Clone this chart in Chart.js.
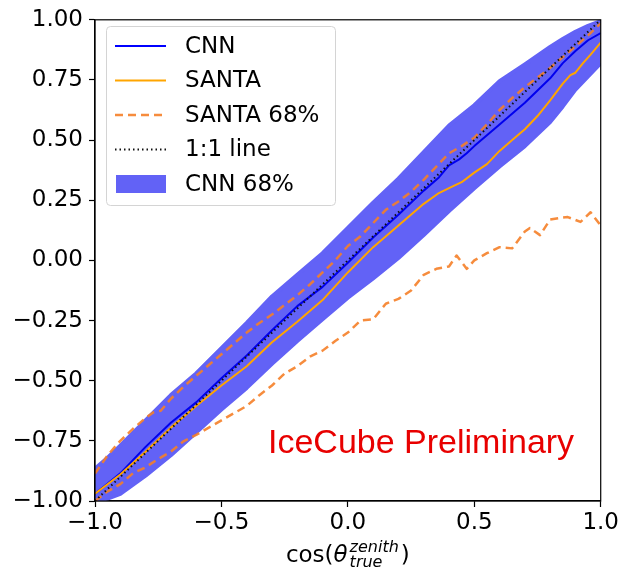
<!DOCTYPE html>
<html>
<head>
<meta charset="utf-8">
<script src="https://cdn.jsdelivr.net/npm/chart.js@4.4.1/dist/chart.umd.min.js"></script>
<style>
    html, body { margin: 0; padding: 0; background: #fff; }
    #wrap { width: 621px; height: 568px; }
</style>
</head>
<body>
<div id="wrap"><canvas id="zenithChart" width="621" height="568"></canvas></div>
<script>
// x = cos(theta_true), y = reconstructed cos(theta)
let cnnX = [-1, -0.9, -0.8, -0.7, -0.6, -0.5, -0.4, -0.3, -0.2, -0.1, 0, 0.1, 0.2, 0.3, 0.36, 0.4, 0.44, 0.47, 0.5, 0.6, 0.7, 0.8, 0.85, 0.9, 0.95, 1]
let cnnY = [-0.97, -0.885, -0.775, -0.675, -0.59, -0.49, -0.395, -0.29, -0.19, -0.11, -0.01, 0.095, 0.19, 0.29, 0.345, 0.395, 0.42, 0.445, 0.475, 0.565, 0.655, 0.757, 0.82, 0.87, 0.915, 0.945]

let santaX = [-1, -0.9, -0.8, -0.7, -0.6, -0.5, -0.4, -0.3, -0.2, -0.1, 0, 0.1, 0.2, 0.3, 0.36, 0.4, 0.45, 0.5, 0.55, 0.6, 0.65, 0.7, 0.75, 0.8, 0.85, 0.88, 0.9, 0.93, 0.96, 1]
let santaY = [-0.97, -0.89, -0.795, -0.695, -0.605, -0.52, -0.44, -0.34, -0.255, -0.165, -0.05, 0.055, 0.145, 0.235, 0.28, 0.3, 0.325, 0.365, 0.4, 0.455, 0.5, 0.545, 0.6, 0.665, 0.735, 0.77, 0.78, 0.82, 0.855, 0.905]

// SANTA 68% upper / lower bounds
let santaHiX = [-1, -0.95, -0.9, -0.85, -0.8, -0.77, -0.74, -0.7, -0.65, -0.6, -0.55, -0.5, -0.45, -0.4, -0.35, -0.3, -0.25, -0.2, -0.15, -0.1, -0.05, 0, 0.05, 0.1, 0.15, 0.2, 0.25, 0.3, 0.35, 0.4, 0.45, 0.5, 0.55, 0.6, 0.65, 0.7, 0.75, 0.8, 0.85, 0.9, 0.95, 1]
let santaHiY = [-0.886, -0.81, -0.75, -0.7, -0.655, -0.632, -0.625, -0.575, -0.525, -0.48, -0.435, -0.39, -0.345, -0.3, -0.26, -0.225, -0.185, -0.145, -0.1, -0.05, 0.0, 0.06, 0.1, 0.155, 0.21, 0.245, 0.285, 0.335, 0.39, 0.445, 0.475, 0.51, 0.565, 0.625, 0.675, 0.72, 0.76, 0.8, 0.845, 0.89, 0.935, 0.985]

let santaLoX = [-1, -0.95, -0.9, -0.85, -0.8, -0.75, -0.7, -0.65, -0.6, -0.55, -0.5, -0.45, -0.4, -0.35, -0.3, -0.25, -0.2, -0.15, -0.1, -0.05, 0, 0.05, 0.1, 0.15, 0.2, 0.25, 0.3, 0.35, 0.4, 0.43, 0.47, 0.5, 0.55, 0.6, 0.65, 0.7, 0.72, 0.76, 0.8, 0.85, 0.87, 0.92, 0.96, 1]
let santaLoY = [-1.0, -0.96, -0.93, -0.885, -0.86, -0.825, -0.795, -0.752, -0.725, -0.695, -0.665, -0.635, -0.605, -0.56, -0.52, -0.47, -0.44, -0.4, -0.375, -0.335, -0.3, -0.25, -0.245, -0.18, -0.16, -0.125, -0.06, -0.035, -0.025, 0.02, -0.035, 0.0, 0.03, 0.055, 0.05, 0.12, 0.135, 0.105, 0.17, 0.178, 0.18, 0.16, 0.2, 0.145]

// CNN 68% band
let bandX = [-1, -0.95, -0.9, -0.8, -0.7, -0.6, -0.5, -0.4, -0.3, -0.2, -0.1, 0, 0.1, 0.2, 0.3, 0.4, 0.5, 0.6, 0.7, 0.8, 0.85, 0.9, 0.95, 1]
let bandHi = [-0.865, -0.82, -0.77, -0.665, -0.56, -0.47, -0.365, -0.26, -0.15, -0.06, 0.03, 0.135, 0.24, 0.34, 0.45, 0.56, 0.645, 0.745, 0.815, 0.887, 0.92, 0.95, 0.975, 0.995]
let bandLo = [-1.0, -0.99, -0.97, -0.895, -0.81, -0.715, -0.62, -0.53, -0.43, -0.335, -0.245, -0.155, -0.075, 0.01, 0.105, 0.205, 0.3, 0.39, 0.475, 0.575, 0.64, 0.71, 0.765, 0.82]

let diagX = [-1, 1]
let diagY = [-1, 1]

let xTicks = [-1, -0.5, 0, 0.5, 1]
let yTicks = [-1, -0.75, -0.5, -0.25, 0, 0.25, 0.5, 0.75, 1]

const FONT = 'DejaVu Sans'
const bandColor = '#6262f6'
const dashColor = 'rgba(245,128,40,0.9)'

function pts(xs, ys) {
    return xs.map((x, i) => ({ x: x, y: ys[i] }))
}

function minus(s) {
    return s.replace('-', '\u2212')
}

// legend rows, drawn inside the plot
let legendItems = [
    { label: 'CNN', kind: 'line', color: 'blue', width: 2, dash: [] },
    { label: 'SANTA', kind: 'line', color: 'orange', width: 2, dash: [] },
    { label: 'SANTA 68%', kind: 'line', color: dashColor, width: 2.5, dash: [8, 5] },
    { label: '1:1 line', kind: 'line', color: '#111', width: 2, dash: [1.5, 3] },
    { label: 'CNN 68%', kind: 'patch', color: bandColor }
]

const legendPlugin = {
    id: 'insideLegend',
    afterDatasetsDraw(chart) {
        let ctx = chart.ctx
        ctx.save()
        // box
        ctx.fillStyle = 'rgba(255,255,255,0.85)'
        ctx.strokeStyle = '#d4d4d4'
        ctx.lineWidth = 1
        ctx.beginPath()
        ctx.roundRect(106.5, 26.5, 229, 179, 4)
        ctx.fill()
        ctx.stroke()
        let y0 = 46, step = 34.5
        ctx.font = '23px "' + FONT + '"'
        ctx.textBaseline = 'middle'
        legendItems.forEach((it, i) => {
            let y = y0 + i * step
            if (it.kind == 'patch') {
                ctx.fillStyle = it.color
                ctx.fillRect(116, y - 9, 50, 18)
            } else {
                ctx.strokeStyle = it.color
                ctx.lineWidth = it.width
                ctx.setLineDash(it.dash)
                ctx.beginPath()
                ctx.moveTo(115, y)
                ctx.lineTo(166, y)
                ctx.stroke()
                ctx.setLineDash([])
            }
            ctx.fillStyle = '#000'
            ctx.fillText(it.label, 185, y + 1)
        })
        ctx.restore()
    }
}

const framePlugin = {
    id: 'frameAndText',
    afterDraw(chart) {
        let ctx = chart.ctx
        let a = chart.chartArea
        ctx.save()
        ctx.strokeStyle = '#000'
        ctx.lineWidth = 1.2
        ctx.strokeRect(a.left, a.top, a.right - a.left, a.bottom - a.top)

        // watermark
        ctx.fillStyle = '#e80000'
        ctx.font = '34px "Liberation Sans"'
        ctx.textBaseline = 'alphabetic'
        ctx.fillText('IceCube Preliminary', 268, 453)

        // x axis title: cos(theta_true^zenith)
        let big = '23px "' + FONT + '"'
        let theta = 'oblique 23px "' + FONT + '"'
        let small = 'oblique 16px "' + FONT + '"'
        ctx.font = big
        let w1 = ctx.measureText('cos(').width
        let w4 = ctx.measureText(')').width
        ctx.font = theta
        let w2 = ctx.measureText('\u03b8').width
        ctx.font = small
        let w3 = Math.max(ctx.measureText('zenith').width, ctx.measureText('true').width)
        let total = w1 + w2 + 2 + w3 + 2 + w4
        let x = (a.left + a.right) / 2 - total / 2
        let base = 562
        ctx.fillStyle = '#000'
        ctx.font = big
        ctx.fillText('cos(', x, base)
        x += w1
        ctx.font = theta
        ctx.fillText('\u03b8', x, base)
        x += w2 + 2
        ctx.font = small
        ctx.fillText('zenith', x, base - 10)
        ctx.fillText('true', x, base + 5)
        x += w3 + 2
        ctx.font = big
        ctx.fillText(')', x, base)
        ctx.restore()
    }
}

let data = {
    datasets: [
        {
            label: '1:1 line', data: pts(diagX, diagY), borderColor: '#111',
            borderWidth: 2, borderDash: [1.5, 3], order: 0
        },
        {
            label: 'SANTA 68%', data: pts(santaHiX, santaHiY), borderColor: dashColor,
            borderWidth: 2.5, borderDash: [8, 5], order: 1
        },
        {
            label: 'SANTA 68% low', data: pts(santaLoX, santaLoY), borderColor: dashColor,
            borderWidth: 2.5, borderDash: [8, 5], order: 1
        },
        {
            label: 'SANTA', data: pts(santaX, santaY), borderColor: 'orange',
            borderWidth: 2, order: 2
        },
        {
            label: 'CNN', data: pts(cnnX, cnnY), borderColor: '#0000ee',
            borderWidth: 2, order: 3
        },
        {
            label: 'CNN 68%', data: pts(bandX, bandHi), borderColor: bandColor,
            backgroundColor: bandColor, borderWidth: 4, fill: '+1', order: 4
        },
        {
            label: 'CNN 68% low', data: pts(bandX, bandLo), borderColor: bandColor,
            borderWidth: 4, order: 4
        }
    ]
}

const config = {
    type: 'line',
    data: data,
    options: {
        responsive: false,
        animation: false,
        events: [],
        layout: { padding: { left: 0, top: 16, right: 20, bottom: 0 } },
        elements: {
            point: { radius: 0 },
            line: { tension: 0, borderJoinStyle: 'round' }
        },
        plugins: {
            legend: { display: false },
            tooltip: { enabled: false },
            filler: { propagate: false }
        },
        scales: {
            x: {
                type: 'linear', min: -1, max: 1,
                afterFit: (s) => { s.height = 67 },
                afterBuildTicks: (s) => { s.ticks = xTicks.map(v => ({ value: v })) },
                grid: { drawOnChartArea: false, drawTicks: true, tickLength: 6, color: '#000', tickWidth: 1.2 },
                border: { display: true, color: '#000', width: 1.2 },
                ticks: {
                    autoSkip: false, maxRotation: 0, padding: 2, color: '#000',
                    font: { family: FONT, size: 23 },
                    callback: (v) => minus(v.toFixed(1))
                }
            },
            y: {
                type: 'linear', min: -1, max: 1,
                afterFit: (s) => { s.width = 95 },
                afterBuildTicks: (s) => { s.ticks = yTicks.map(v => ({ value: v })) },
                grid: { drawOnChartArea: false, drawTicks: true, tickLength: 6, color: '#000', tickWidth: 1.2 },
                border: { display: true, color: '#000', width: 1.2 },
                ticks: {
                    autoSkip: false, padding: 6, color: '#000',
                    font: { family: FONT, size: 23 },
                    callback: (v) => minus(v.toFixed(2))
                }
            }
        }
    },
    plugins: [legendPlugin, framePlugin]
}

let chart = new Chart(document.getElementById('zenithChart').getContext('2d'), config)
</script>
</body>
</html>
